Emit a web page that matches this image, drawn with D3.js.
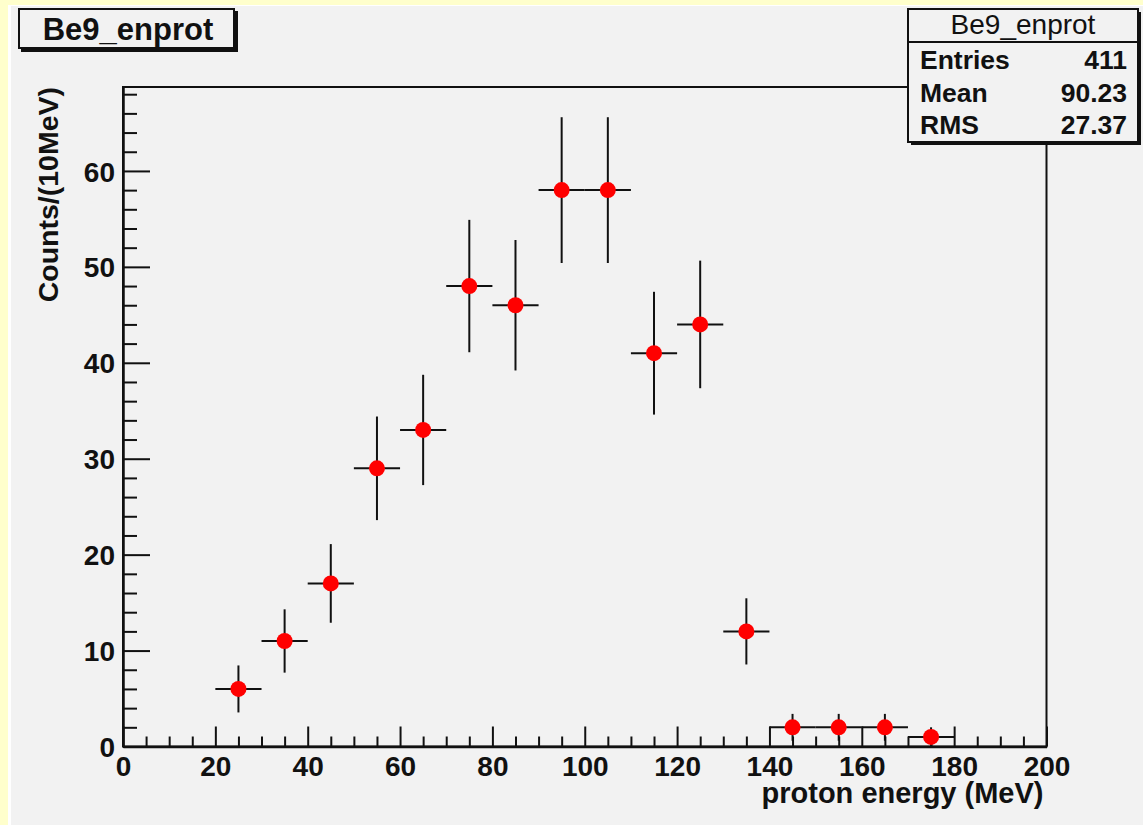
<!DOCTYPE html>
<html lang="en">
	<head>
		<meta charset="utf-8">
		<title>Be9_enprot</title>
		<script type="text/javascript" src="https://cdn.jsdelivr.net/npm/d3@7"></script>
		<style>
			body { margin: 0; padding: 0; }
			text { font-family: "Liberation Sans", Arial, Helvetica, sans-serif; }
		</style>
	</head>
	<body>
		<script type="text/javascript">
			// Histogram data (bin centres, counts, errors).
			var bin_centers = [25, 35, 45, 55, 65, 75, 85, 95, 105, 115, 125, 135, 145, 155, 165, 175];
			var counts = [6, 11, 17, 29, 33, 48, 46, 58, 58, 41, 44, 12, 2, 2, 2, 1];
			var errors = [2.45, 3.3, 4.1, 5.4, 5.75, 6.9, 6.8, 7.6, 7.6, 6.4, 6.65, 3.45, 1.4, 1.4, 1.4, 1.0];
			var half_width = 5;
			var x_ticks = [0, 20, 40, 60, 80, 100, 120, 140, 160, 180, 200];
			var y_ticks = [0, 10, 20, 30, 40, 50, 60];
			var stats_names = ["Entries", "Mean", "RMS"];
			var stats_values = ["411", "90.23", "27.37"];

			var data = Array();
			for (idx = 0; idx < bin_centers.length; idx++) {
				data.push({ x: bin_centers[idx], y: counts[idx], e: errors[idx] });
			}

			// Setup SVG canvas.
			var width = 1143;
			var height = 825;
			var svg1 = d3.select("body")
						 .append("svg")
						 .attr("width", width)
						 .attr("height", height);

			// Canvas background: yellow border and grey pad.
			svg1.append("rect")
				.attr("x", 0).attr("y", 0)
				.attr("width", width).attr("height", height)
				.attr("fill", "#ffffcc");
			svg1.append("rect")
				.attr("x", 8).attr("y", 5)
				.attr("width", width - 8).attr("height", height - 5)
				.attr("fill", "#ffffff");
			svg1.append("rect")
				.attr("x", 11).attr("y", 6)
				.attr("width", width - 11).attr("height", height - 6)
				.attr("fill", "#f2f2f2");

			// Scales.
			var f_left = 123, f_right = 1046.5, f_top = 87, f_bottom = 746.5;
			var x_scale = d3.scaleLinear()
							.domain([0, 200])
							.range([f_left, f_right]);
			var y_scale = d3.scaleLinear()
							.domain([0, 68.75])
							.range([f_bottom, f_top]);

			// Frame.
			svg1.append("rect")
				.attr("x", f_left).attr("y", f_top)
				.attr("width", f_right - f_left).attr("height", f_bottom - f_top)
				.attr("fill", "#f2f2f2")
				.attr("stroke", "#111")
				.attr("stroke-width", 2);

			// X axis: major ticks every 20, minor every 5.
			var x_axis = d3.axisBottom(x_scale)
						   .tickValues(x_ticks)
						   .tickSizeInner(-20)
						   .tickSizeOuter(0)
						   .tickFormat(d3.format("d"));
			var gx = svg1.append("g")
						 .attr("transform", "translate(0," + f_bottom + ")")
						 .call(x_axis);
			svg1.append("g")
				.attr("transform", "translate(0," + f_bottom + ")")
				.call(d3.axisBottom(x_scale)
						.tickValues(d3.range(0, 201, 5).filter(function(v) { return v % 20 != 0; }))
						.tickSizeInner(-10)
						.tickSizeOuter(0)
						.tickFormat(""))
				.select(".domain").remove();

			// Y axis: major ticks every 10, minor every 2.
			var y_axis = d3.axisLeft(y_scale)
						   .tickValues(y_ticks)
						   .tickSizeInner(-27)
						   .tickSizeOuter(0)
						   .tickFormat(d3.format("d"));
			var gy = svg1.append("g")
						 .attr("transform", "translate(" + f_left + ",0)")
						 .call(y_axis);
			svg1.append("g")
				.attr("transform", "translate(" + f_left + ",0)")
				.call(d3.axisLeft(y_scale)
						.tickValues(d3.range(0, 69, 2).filter(function(v) { return v % 10 != 0; }))
						.tickSizeInner(-14)
						.tickSizeOuter(0)
						.tickFormat(""))
				.select(".domain").remove();

			// Axis styling.
			svg1.selectAll(".domain")
				.attr("stroke", "#111")
				.attr("stroke-width", 2.5);
			svg1.selectAll(".tick line")
				.attr("stroke", "#111")
				.attr("stroke-width", 2);
			gx.selectAll(".tick text")
			  .attr("font-size", 28)
			  .attr("font-weight", "bold")
			  .attr("fill", "#111")
			  .attr("y", 29)
			  .attr("dy", "0");
			gy.selectAll(".tick text")
			  .attr("font-size", 28)
			  .attr("font-weight", "bold")
			  .attr("fill", "#111")
			  .attr("x", -8)
			  .attr("dy", "0.36em");

			// Axis titles.
			svg1.append("text")
				.attr("x", f_right - 3)
				.attr("y", 803)
				.attr("text-anchor", "end")
				.attr("font-size", 29)
				.attr("font-weight", "bold")
				.attr("fill", "#111")
				.text("proton energy (MeV)");
			svg1.append("text")
				.attr("transform", "translate(58," + f_top + ") rotate(-90)")
				.attr("text-anchor", "end")
				.attr("font-size", 28.5)
				.attr("font-weight", "bold")
				.attr("fill", "#111")
				.text("Counts/(10MeV)");

			// Error bars.
			var bars = svg1.append("g");
			bars.selectAll("hbar")
				.data(data)
				.enter()
				.append("line")
				.attr("x1", function(d) { return x_scale(d.x - half_width); })
				.attr("x2", function(d) { return x_scale(d.x + half_width); })
				.attr("y1", function(d) { return y_scale(d.y); })
				.attr("y2", function(d) { return y_scale(d.y); })
				.attr("stroke", "#111")
				.attr("stroke-width", 2);
			bars.selectAll("vbar")
				.data(data)
				.enter()
				.append("line")
				.attr("x1", function(d) { return x_scale(d.x); })
				.attr("x2", function(d) { return x_scale(d.x); })
				.attr("y1", function(d) { return y_scale(d.y - d.e); })
				.attr("y2", function(d) { return y_scale(d.y + d.e); })
				.attr("stroke", "#111")
				.attr("stroke-width", 2);

			// Markers.
			svg1.selectAll("marker_dot")
				.data(data)
				.enter()
				.append("circle")
				.attr("cx", function(d) { return x_scale(d.x); })
				.attr("cy", function(d) { return y_scale(d.y); })
				.attr("r", 8)
				.attr("fill", "#ff0000");

			// Title box.
			svg1.append("rect")
				.attr("x", 21).attr("y", 11)
				.attr("width", 217).attr("height", 41)
				.attr("fill", "#111");
			svg1.append("rect")
				.attr("x", 19).attr("y", 9)
				.attr("width", 215).attr("height", 39)
				.attr("fill", "#f2f2f2")
				.attr("stroke", "#111")
				.attr("stroke-width", 2);
			svg1.append("text")
				.attr("x", 128)
				.attr("y", 40)
				.attr("text-anchor", "middle")
				.attr("font-size", 31)
				.attr("font-weight", "bold")
				.attr("fill", "#111")
				.text("Be9_enprot");

			// Statistics box.
			var sx = 908, sy = 9, sw = 230, sh = 133;
			svg1.append("rect")
				.attr("x", sx + 3).attr("y", sy + 3)
				.attr("width", sw).attr("height", sh)
				.attr("fill", "#111");
			svg1.append("rect")
				.attr("x", sx).attr("y", sy)
				.attr("width", sw).attr("height", sh)
				.attr("fill", "#f2f2f2")
				.attr("stroke", "#111")
				.attr("stroke-width", 2);
			svg1.append("line")
				.attr("x1", sx).attr("x2", sx + sw)
				.attr("y1", 42).attr("y2", 42)
				.attr("stroke", "#111")
				.attr("stroke-width", 2);
			svg1.append("text")
				.attr("x", sx + sw / 2)
				.attr("y", 34)
				.attr("text-anchor", "middle")
				.attr("font-size", 28)
				.attr("fill", "#111")
				.text("Be9_enprot");
			svg1.selectAll("stat_name")
				.data(stats_names)
				.enter()
				.append("text")
				.attr("x", 920)
				.attr("y", function(d, i) { return 69 + i * 32.5; })
				.attr("font-size", 26.5)
				.attr("font-weight", "bold")
				.attr("fill", "#111")
				.text(function(d) { return d; });
			svg1.selectAll("stat_value")
				.data(stats_values)
				.enter()
				.append("text")
				.attr("x", 1127)
				.attr("y", function(d, i) { return 69 + i * 32.5; })
				.attr("text-anchor", "end")
				.attr("font-size", 26.5)
				.attr("font-weight", "bold")
				.attr("fill", "#111")
				.text(function(d) { return d; });
		</script>
	</body>
</html>
